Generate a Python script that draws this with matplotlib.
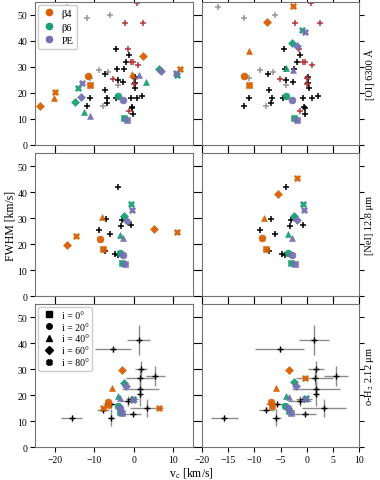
import matplotlib
matplotlib.use("Agg")
import matplotlib.pyplot as plt
from matplotlib.lines import Line2D

plt.rcParams['font.family'] = ['Liberation Serif', 'DejaVu Serif']
plt.rcParams['mathtext.fontset'] = 'stix'

# ---- observations: [OI] 6300 A ----
oi_black_vc = [-4.4, -1.3, -1.9, -4.2, -2.5, -7.4, -3.9, -2.6, 0.3, 0.2, 0.4, -7.2, -6.7, -6.8,
               -11.0, -11.9, -4.6, -0.8, 0.9, 2.2, -0.5, -0.4, -0.3]
oi_black_fw = [36.9, 34.6, 32.1, 29.1, 29.1, 27.2, 25.0, 24.1, 26.0, 23.8, 22.0, 21.2, 18.2, 16.3,
               18.0, 15.0, 18.0, 18.0, 18.0, 19.0, 14.6, 14.2, 12.0]
oi_gray_vc = [-17.0, -11.9, -6.0, -8.9, -11.0, -6.5, -3.9, -7.8, 0.3]
oi_gray_fw = [53.1, 48.8, 50.0, 29.0, 25.9, 28.1, 23.1, 15.0, 25.3]
oi_red_vc = [0.7, -2.2, 2.4, -1.5, -0.8, -0.3, 1.0, -5.2, 0.0, 0.1, -1.3]
oi_red_fw = [54.6, 46.9, 46.9, 36.9, 32.1, 32.1, 30.9, 25.3, 25.8, 23.6, 13.1]

# ---- observations: [NeI] 12.8 um ----
ne_vc = [-4.0, -6.9, -3.1, -8.9, -3.3, -0.8, -6.0, -7.3, -4.7, -4.1]
ne_fw = [41.8, 29.5, 29.3, 25.5, 26.8, 27.2, 23.8, 17.2, 16.3, 15.8]

# ---- observations: o-H2 2.12 um ----
h2_vc = [-15.7, -5.2, 1.3, 1.8, 1.5, 5.5, 1.7, 1.7, -1.4, -5.7, -7.7, -5.8, -0.3, 3.3, -0.5]
h2_fw = [11.3, 37.7, 41.4, 30.0, 26.8, 27.3, 22.5, 20.6, 17.8, 16.8, 14.4, 11.4, 12.7, 15.2, 18.6]
h2_vc_err = [2.6, 4.6, 2.9, 1.5, 3.5, 2.3, 4.6, 0.5, 2.2, 2.1, 1.5, 0.8, 2.1, 4.2, 1.5]
h2_fw_err = [1.0, 1.0, 5.8, 3.2, 3.0, 3.9, 3.0, 4.8, 2.0, 0.8, 1.0, 3.4, 0.8, 3.5, 1.0]

# ---- models: (inclination, v_c, FWHM) ----
oi_left_b4 = [(0, -11.0, 23.2), (20, -11.7, 26.5), (40, -20.3, 18.2), (40, -0.4, 27.4),
              (60, -23.7, 15.0), (60, 2.4, 34.2), (80, -20.0, 20.5), (80, 11.8, 29.2)]
oi_left_b6 = [(0, -2.4, 10.4), (20, -3.9, 18.7), (40, -12.6, 12.8), (40, 3.2, 24.2),
              (60, -14.9, 16.4), (60, 6.3, 29.1), (80, -14.2, 21.8), (80, 10.9, 26.8)]
oi_left_pe = [(0, -1.6, 9.7), (20, -2.7, 17.4), (40, -11.0, 11.0), (40, 1.4, 26.8),
              (60, -13.4, 18.6), (60, 6.9, 28.3), (80, -13.1, 24.0), (80, 10.8, 27.7)]
oi_right_b4 = [(0, -11.1, 23.2), (20, -11.9, 26.4), (40, -11.1, 36.3), (60, -7.6, 47.2), (80, -2.6, 53.6)]
oi_right_b6 = [(0, -2.4, 10.4), (20, -3.9, 18.7), (40, -4.0, 29.6), (60, -2.8, 39.4), (80, -0.9, 44.2)]
oi_right_pe = [(0, -1.8, 9.7), (20, -2.8, 17.4), (40, -2.6, 28.8), (60, -1.8, 38.2), (80, -0.45, 43.5)]

ne_left_b4 = [(0, -7.8, 18.2), (20, -8.5, 22.0), (40, -8.0, 30.3), (60, -16.8, 19.7), (60, 5.0, 25.6),
              (80, -14.7, 23.0), (80, 11.0, 24.5)]
ne_left_b6 = [(0, -2.9, 12.8), (20, -3.5, 16.7), (40, -3.5, 23.6), (60, -2.5, 30.8), (80, -0.7, 35.3)]
ne_left_pe = [(0, -2.2, 12.2), (20, -2.8, 15.8), (40, -2.8, 22.4), (60, -1.8, 29.0), (80, -0.5, 33.1)]
ne_right_b4 = [(0, -7.75, 18.2), (20, -8.6, 22.2), (40, -8.1, 30.1), (60, -5.5, 39.2), (80, -1.85, 45.3)]
ne_right_b6 = [(0, -3.0, 12.8), (20, -3.6, 16.7), (40, -3.6, 23.7), (60, -2.4, 30.9), (80, -0.8, 35.3)]
ne_right_pe = [(0, -2.3, 12.2), (20, -2.8, 15.8), (40, -2.9, 22.3), (60, -1.9, 29.1), (80, -0.6, 33.1)]

h2_left_b4 = [(0, -6.5, 16.2), (20, -6.5, 17.5), (40, -5.6, 22.9), (60, -3.0, 29.7),
              (80, -7.7, 15.2), (80, 6.4, 15.2)]
h2_left_b6 = [(0, -3.4, 13.6), (20, -4.1, 15.8), (40, -4.0, 19.9), (60, -2.4, 24.9), (80, -0.1, 18.6)]
h2_left_pe = [(0, -2.9, 13.2), (20, -3.6, 15.1), (40, -3.4, 19.0), (60, -1.9, 23.5), (80, -0.3, 18.3)]
h2_right_b4 = [(0, -6.55, 16.0), (20, -6.8, 17.5), (40, -5.85, 22.8), (60, -3.4, 29.7), (80, -0.4, 26.6)]
h2_right_b6 = [(0, -3.5, 13.8), (20, -4.1, 15.8), (40, -3.9, 19.9), (60, -2.4, 25.1), (80, -0.25, 18.9)]
h2_right_pe = [(0, -3.1, 13.2), (20, -3.6, 15.1), (40, -3.4, 19.2), (60, -2.0, 23.4), (80, -0.4, 18.5)]

model_colors = {'b4': '#d95f02', 'b6': '#1b9e77', 'pe': '#7570b3'}
model_labels = {'b4': 'β4', 'b6': 'β6', 'pe': 'PE'}
inc_markers = {0: 's', 20: 'o', 40: '^', 60: 'D', 80: 'X'}
inc_sizes = {0: 5, 20: 5, 40: 4.5, 60: 4.5, 80: 5}

fig = plt.figure(figsize=(3.8, 4.81), dpi=100)
x0s = [0.092, 0.531]
widths = [0.416, 0.415]
bottoms = [0.6965, 0.3825, 0.068]
h = 0.2973
axs = [[fig.add_axes([x0s[c], bottoms[r], widths[c], h]) for c in range(2)] for r in range(3)]

def draw_models(ax, models):
    for key, pts in models:
        for inc, vc, fw in pts:
            ax.plot(vc, fw, linestyle='none', marker=inc_markers[inc], ms=inc_sizes[inc],
                    color=model_colors[key], mec=model_colors[key], mew=0.4, alpha=0.95, zorder=3)

panels = [
    [[('b4', oi_left_b4), ('b6', oi_left_b6), ('pe', oi_left_pe)],
     [('b4', oi_right_b4), ('b6', oi_right_b6), ('pe', oi_right_pe)]],
    [[('b4', ne_left_b4), ('b6', ne_left_b6), ('pe', ne_left_pe)],
     [('b4', ne_right_b4), ('b6', ne_right_b6), ('pe', ne_right_pe)]],
    [[('b4', h2_left_b4), ('b6', h2_left_b6), ('pe', h2_left_pe)],
     [('b4', h2_right_b4), ('b6', h2_right_b6), ('pe', h2_right_pe)]],
]

pk = dict(linestyle='none', marker='+', ms=5, mew=1.1, zorder=2)
for c in range(2):
    ax = axs[0][c]
    ax.plot(oi_gray_vc, oi_gray_fw, color='0.6', **pk)
    ax.plot(oi_black_vc, oi_black_fw, color='k', **pk)
    ax.plot(oi_red_vc, oi_red_fw, color='#b5373a', **pk)
    ax = axs[1][c]
    ax.plot(ne_vc, ne_fw, color='k', **pk)
    ax = axs[2][c]
    ax.errorbar(h2_vc, h2_fw, xerr=h2_vc_err, yerr=h2_fw_err, fmt='+', color='k', ms=5, mew=1.0,
                ecolor='0.55', elinewidth=1.0, capsize=0, zorder=2)

for r in range(3):
    for c in range(2):
        ax = axs[r][c]
        draw_models(ax, panels[r][c])
        ax.set_ylim(0, 55)
        if c == 0:
            ax.set_xlim(-25, 15)
            ax.set_xticks([-20, -10, 0, 10])
        else:
            ax.set_xlim(-20, 10)
            ax.set_xticks([-20, -15, -10, -5, 0, 5, 10])
        ax.set_yticks([0, 10, 20, 30, 40, 50])
        ax.tick_params(direction='out', top=True, right=True, length=3.5, width=0.8,
                       labelsize=7, pad=2,
                       labelleft=(c == 0), labelbottom=(r == 2))
        for s in ax.spines.values():
            s.set_color('0.45')
            s.set_linewidth(0.8)

# legends
h_models = [Line2D([], [], linestyle='none', marker='o', ms=4.5, color=model_colors[k]) for k in ['b4', 'b6', 'pe']]
axs[0][0].legend(h_models, [model_labels[k] for k in ['b4', 'b6', 'pe']], loc='upper left',
                 fontsize=7.5, handletextpad=0.5, borderpad=0.35, labelspacing=0.4,
                 framealpha=1, edgecolor='0.8', handlelength=1.4, borderaxespad=0.3)
h_inc = [Line2D([], [], linestyle='none', marker=inc_markers[i], ms=4, color='k') for i in [0, 20, 40, 60, 80]]
axs[2][0].legend(h_inc, ['i = %d°' % i for i in [0, 20, 40, 60, 80]], loc='upper left',
                 fontsize=7, handletextpad=0.6, borderpad=0.35, labelspacing=0.3,
                 framealpha=1, edgecolor='0.8', handlelength=1.5, borderaxespad=0.3)

fig.text(0.028, 0.531, 'FWHM [km/s]', rotation=90, ha='center', va='center', fontsize=8.5)
fig.text(0.503, 0.003, r'v$_\mathrm{c}$ [km/s]', ha='center', va='bottom', fontsize=8.5)
right_labels = ['[OI] 6300 Å', '[NeI] 12.8 μm', r'o-H$_2$ 2.12 μm']
for r in range(3):
    fig.text(0.972, bottoms[r] + h / 2, right_labels[r], rotation=90, ha='center', va='center', fontsize=7.5)

fig.savefig('out.png', dpi=100)
